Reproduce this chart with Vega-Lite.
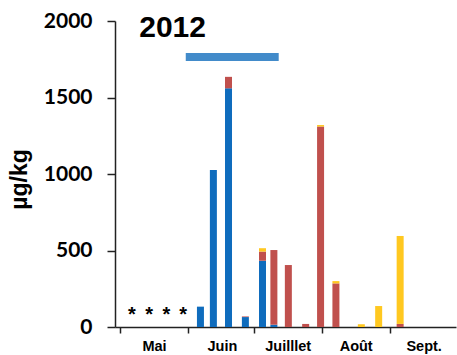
{
  "$schema": "https://vega.github.io/schema/vega-lite/v6.json",
  "width": 341,
  "height": 306,
  "autosize": {"type": "none"},
  "padding": {"left": 115, "top": 21, "right": 1, "bottom": 28},
  "background": "white",
  "config": {
    "view": {"stroke": null},
    "axis": {"grid": false, "domainColor": "#222222", "domainWidth": 1.5, "tickColor": "#222222", "tickWidth": 1.5, "labelColor": "black", "labelFontWeight": "bold", "titleColor": "black"}
  },
  "datasets": {
    "bars": [
      {"day": 36.7, "type": "blue", "o": 1, "value": 133},
      {"day": 42.6, "type": "blue", "o": 1, "value": 1026},
      {"day": 49.5, "type": "blue", "o": 1, "value": 1560},
      {"day": 49.5, "type": "red", "o": 2, "value": 75},
      {"day": 57.2, "type": "blue", "o": 1, "value": 65},
      {"day": 57.2, "type": "red", "o": 2, "value": 4},
      {"day": 65.0, "type": "blue", "o": 1, "value": 433},
      {"day": 65.0, "type": "red", "o": 2, "value": 60},
      {"day": 65.0, "type": "yellow", "o": 3, "value": 22},
      {"day": 70.2, "type": "blue", "o": 1, "value": 15},
      {"day": 70.2, "type": "red", "o": 2, "value": 488},
      {"day": 76.8, "type": "red", "o": 2, "value": 405},
      {"day": 84.7, "type": "red", "o": 2, "value": 20},
      {"day": 91.5, "type": "red", "o": 2, "value": 1310},
      {"day": 91.5, "type": "yellow", "o": 3, "value": 10},
      {"day": 98.5, "type": "red", "o": 2, "value": 285},
      {"day": 98.5, "type": "yellow", "o": 3, "value": 15},
      {"day": 110.1, "type": "yellow", "o": 3, "value": 18},
      {"day": 118.0, "type": "yellow", "o": 3, "value": 137},
      {"day": 127.8, "type": "red", "o": 2, "value": 20},
      {"day": 127.8, "type": "yellow", "o": 3, "value": 575}
    ],
    "stars": [
      {"day": 5.4, "value": 40, "t": "*"},
      {"day": 13.3, "value": 40, "t": "*"},
      {"day": 21.2, "value": 40, "t": "*"},
      {"day": 28.8, "value": 40, "t": "*"}
    ],
    "label": [{"day": 24.0, "value": 1957, "t": "2012"}],
    "period": [{"day": 30.0, "day2": 72.4, "value": 1765}]
  },
  "layer": [
    {
      "data": {"name": "bars"},
      "mark": {"type": "bar", "size": 7, "orient": "vertical"},
      "encoding": {
        "x": {
          "field": "day", "type": "quantitative", "title": null,
          "scale": {"domain": [0, 151], "nice": false, "zero": false},
          "axis": {
            "values": [0, 31, 61, 92, 123],
            "labelExpr": "datum.value == 0 ? 'Mai' : datum.value == 31 ? 'Juin' : datum.value == 61 ? 'Juilllet' : datum.value == 92 ? 'Août' : 'Sept.'",
            "labelOffset": 34, "labelOverlap": false, "labelBound": false, "labelFlush": false,
            "tickSize": 6, "labelPadding": 6, "labelFont": "Liberation Sans", "labelFontSize": 14.5
          }
        },
        "y": {
          "field": "value", "type": "quantitative", "stack": "zero", "title": "µg/kg",
          "scale": {"domain": [0, 2000], "nice": false},
          "axis": {
            "values": [0, 500, 1000, 1500, 2000], "format": "d",
            "tickSize": 8, "labelPadding": 15, "labelFont": "Lato", "labelFontSize": 21,
            "titleFont": "Liberation Sans", "titleFontSize": 23, "titleFontWeight": "bold",
            "titleX": -96, "titleY": 158, "titleAngle": -90, "titleAlign": "center", "titleBaseline": "middle"
          }
        },
        "color": {
          "field": "type", "type": "nominal", "legend": null,
          "scale": {"domain": ["blue", "red", "yellow"], "range": ["#0F6CBD", "#C0504D", "#FFC820"]}
        },
        "order": {"field": "o", "type": "quantitative"}
      }
    },
    {
      "data": {"name": "period"},
      "mark": {"type": "rule", "strokeWidth": 8, "color": "#428BCA", "strokeCap": "butt"},
      "encoding": {
        "x": {"field": "day", "type": "quantitative", "title": null},
        "x2": {"field": "day2"},
        "y": {"field": "value", "type": "quantitative", "title": "µg/kg"}
      }
    },
    {
      "data": {"name": "stars"},
      "mark": {"type": "text", "font": "Liberation Sans", "fontSize": 20, "fontWeight": "bold", "baseline": "alphabetic", "color": "black"},
      "encoding": {
        "x": {"field": "day", "type": "quantitative", "title": null},
        "y": {"field": "value", "type": "quantitative", "title": "µg/kg"},
        "text": {"field": "t"}
      }
    },
    {
      "data": {"name": "label"},
      "mark": {"type": "text", "font": "Liberation Sans", "fontSize": 30, "fontWeight": "bold", "baseline": "middle", "color": "black"},
      "encoding": {
        "x": {"field": "day", "type": "quantitative", "title": null},
        "y": {"field": "value", "type": "quantitative", "title": "µg/kg"},
        "text": {"field": "t"}
      }
    }
  ]
}
